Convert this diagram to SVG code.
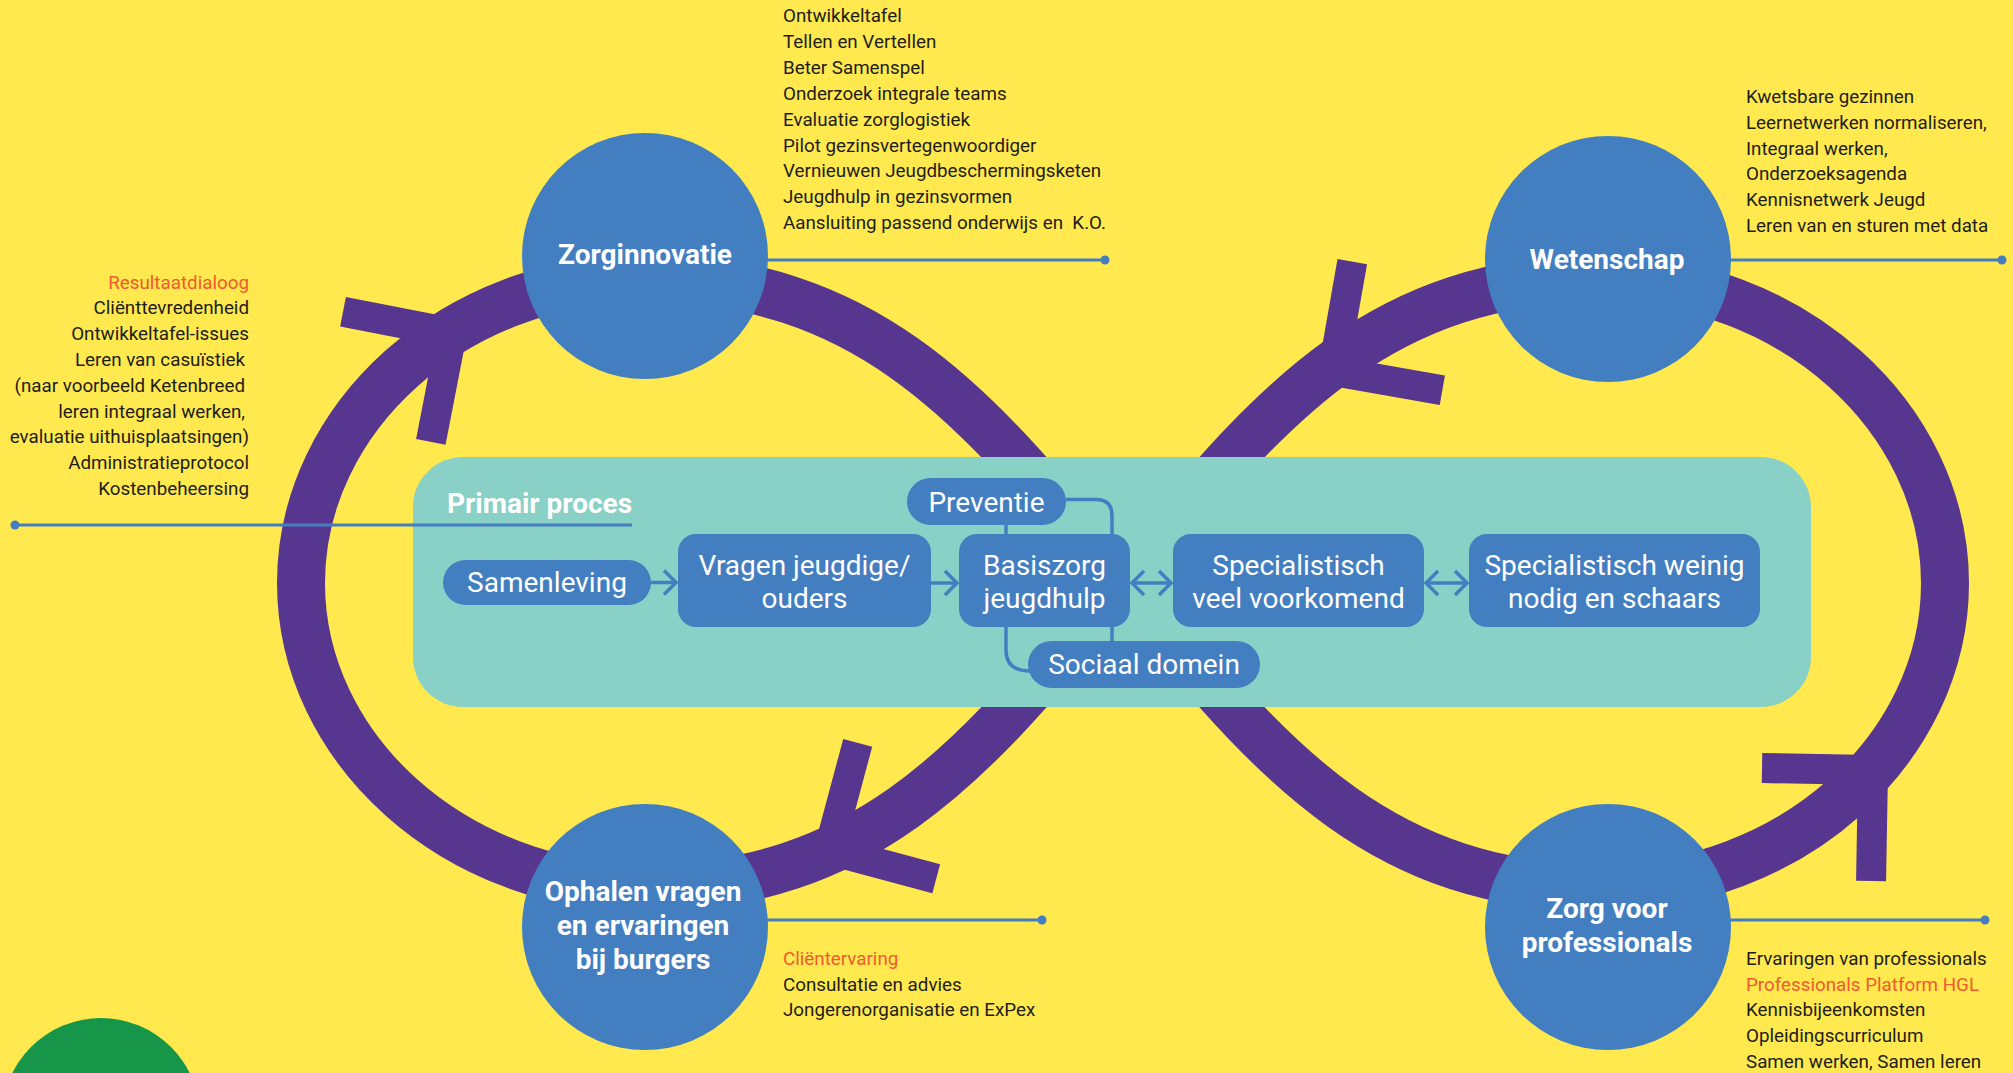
<svg xmlns="http://www.w3.org/2000/svg" width="2013" height="1073" viewBox="0 0 2013 1073">
<defs>
<style>
.bg{fill:#FFE94E}
.band{fill:none;stroke:#56368F;stroke-width:48}
.barb{stroke:#56368F;stroke-width:30;stroke-linecap:butt}
.circle{fill:#437EC0}
.ctext{font-family:Roboto,'Liberation Sans',sans-serif;font-weight:700;font-size:28px;fill:#ffffff;text-anchor:middle}
.box{fill:#437EC0}
.btext{font-family:Roboto,'Liberation Sans',sans-serif;font-size:28px;fill:#ffffff;text-anchor:middle}
.title{font-family:Roboto,'Liberation Sans',sans-serif;font-weight:700;font-size:28px;fill:#ffffff}
.list{font-family:Roboto,'Liberation Sans',sans-serif;font-size:18.8px;fill:#1d1d1b}
.end{text-anchor:end}
.hl{fill:#F15A31}
.lead{stroke:#437EC0;stroke-width:3;fill:none}
.dot{fill:#437EC0}
.flow{stroke:#437EC0;stroke-width:3.5;fill:none}
</style>
<marker id="chev" markerUnits="userSpaceOnUse" markerWidth="18" markerHeight="28" refX="14" refY="14" orient="auto-start-reverse" viewBox="0 0 18 28">
<path d="M2,2 L14,14 L2,26" fill="none" stroke="#437EC0" stroke-width="3.5"/>
</marker>
<g id="barbs">
<line class="barb" x1="0" y1="0" x2="-78.5" y2="78.5"/>
<line class="barb" x1="0" y1="0" x2="-78.5" y2="-78.5"/>
</g>
</defs>

<rect class="bg" x="0" y="0" width="2013" height="1073"/>
<circle id="green-dot" cx="101" cy="1117" r="99" fill="#17964A"/>

<g id="cycle">
<path class="band" d="M645,278 C885,278 992,431 1123,582 C1254,733 1361,888 1601,888 C1791,888 1945,749 1945,583 C1945,417 1791,278 1601,278 C1361,278 1254,431 1123,582 C992,733 885,888 645,888 C455,888 301,749 301,583 C301,417 455,278 645,278 Z"/>
<use href="#barbs" transform="translate(452,333) rotate(-34)"/>
<use href="#barbs" transform="translate(829,850) rotate(150)"/>
<use href="#barbs" transform="translate(1333,371) rotate(145)"/>
<use href="#barbs" transform="translate(1873,770) rotate(-44)"/>
</g>

<g id="primair-proces">
<rect x="413" y="457" width="1398" height="250" rx="50" fill="#89D0C7"/>
<text class="title" x="447" y="513">Primair proces</text>
</g>

<g id="connectors">
<path class="flow" d="M651,582.5 H676" marker-end="url(#chev)"/>
<path class="flow" d="M931,583 H957" marker-end="url(#chev)"/>
<path class="flow" d="M1132,583 H1171" marker-start="url(#chev)" marker-end="url(#chev)"/>
<path class="flow" d="M1426,583 H1467" marker-start="url(#chev)" marker-end="url(#chev)"/>
<path class="flow" d="M1006,525 V534"/>
<path class="flow" d="M1066,499.5 H1096 Q1112,499.5 1112,515.5 V534"/>
<path class="flow" d="M1006,627 V650 Q1006,671 1030,671"/>
<path class="flow" d="M1112,627 V641"/>
<path class="lead" d="M766,260 H1105"/>
<circle class="dot" cx="1105" cy="260" r="4.5"/>
<path class="lead" d="M1729,260 H2002"/>
<circle class="dot" cx="2002" cy="260" r="4.5"/>
<path class="lead" d="M766,920 H1042"/>
<circle class="dot" cx="1042" cy="920" r="4.5"/>
<path class="lead" d="M1729,920 H1985"/>
<circle class="dot" cx="1985" cy="920" r="4.5"/>
<path class="lead" d="M15,525 H632"/>
<circle class="dot" cx="15" cy="525" r="4.5"/>
</g>

<g id="samenleving">
<rect class="box" x="443" y="560" width="208" height="45" rx="22.5"/>
<text class="btext" x="547" y="592">Samenleving</text>
</g>
<g id="vragen">
<rect class="box" x="678" y="534" width="253" height="93" rx="18"/>
<text class="btext" x="804.5" y="575">Vragen jeugdige/</text>
<text class="btext" x="804.5" y="608">ouders</text>
</g>
<g id="preventie">
<rect class="box" x="907" y="478" width="159" height="47" rx="23.5"/>
<text class="btext" x="986.5" y="511.5">Preventie</text>
</g>
<g id="basiszorg">
<rect class="box" x="959" y="534" width="171" height="93" rx="18"/>
<text class="btext" x="1044.5" y="575">Basiszorg</text>
<text class="btext" x="1044.5" y="608">jeugdhulp</text>
</g>
<g id="sociaal-domein">
<rect class="box" x="1028" y="641" width="232" height="47" rx="23.5"/>
<text class="btext" x="1144" y="674">Sociaal domein</text>
</g>
<g id="specialistisch-veel">
<rect class="box" x="1173" y="534" width="251" height="93" rx="18"/>
<text class="btext" x="1298.5" y="575">Specialistisch</text>
<text class="btext" x="1298.5" y="608">veel voorkomend</text>
</g>
<g id="specialistisch-weinig">
<rect class="box" x="1469" y="534" width="291" height="93" rx="18"/>
<text class="btext" x="1614.5" y="575">Specialistisch weinig</text>
<text class="btext" x="1614.5" y="608">nodig en schaars</text>
</g>

<g id="zorginnovatie">
<circle class="circle" cx="645" cy="256" r="123"/>
<text class="ctext" x="645" y="264">Zorginnovatie</text>
</g>
<g id="wetenschap">
<circle class="circle" cx="1608" cy="259" r="123"/>
<text class="ctext" x="1607" y="269">Wetenschap</text>
</g>
<g id="ophalen">
<circle class="circle" cx="645" cy="927" r="123"/>
<text class="ctext" x="643" y="901">Ophalen vragen</text>
<text class="ctext" x="643" y="935">en ervaringen</text>
<text class="ctext" x="643" y="969">bij burgers</text>
</g>
<g id="zorg-voor-professionals">
<circle class="circle" cx="1608" cy="927" r="123"/>
<text class="ctext" x="1607" y="918">Zorg voor</text>
<text class="ctext" x="1607" y="952">professionals</text>
</g>

<g id="lijst-zorginnovatie" class="list">
<text x="783" y="22">Ontwikkeltafel</text>
<text x="783" y="47.9">Tellen en Vertellen</text>
<text x="783" y="73.8">Beter Samenspel</text>
<text x="783" y="99.7">Onderzoek integrale teams</text>
<text x="783" y="125.6">Evaluatie zorglogistiek</text>
<text x="783" y="151.5">Pilot gezinsvertegenwoordiger</text>
<text x="783" y="177.4">Vernieuwen Jeugdbeschermingsketen</text>
<text x="783" y="203.3">Jeugdhulp in gezinsvormen</text>
<text x="783" y="229.2" xml:space="preserve">Aansluiting passend onderwijs en  K.O.</text>
</g>
<g id="lijst-wetenschap" class="list">
<text x="1746" y="102.7">Kwetsbare gezinnen</text>
<text x="1746" y="128.6">Leernetwerken normaliseren,</text>
<text x="1746" y="154.5">Integraal werken,</text>
<text x="1746" y="180.4">Onderzoeksagenda</text>
<text x="1746" y="206.3">Kennisnetwerk Jeugd</text>
<text x="1746" y="232.2">Leren van en sturen met data</text>
</g>
<g id="lijst-primair" class="list end">
<text class="hl" x="249" y="288.5">Resultaatdialoog</text>
<text x="249" y="314.3">Cliënttevredenheid</text>
<text x="249" y="340.1">Ontwikkeltafel-issues</text>
<text x="245" y="365.9">Leren van casuïstiek</text>
<text x="245" y="391.7">(naar voorbeeld Ketenbreed</text>
<text x="245" y="417.5">leren integraal werken,</text>
<text x="249" y="443.3">evaluatie uithuisplaatsingen)</text>
<text x="249" y="469.1">Administratieprotocol</text>
<text x="249" y="494.9">Kostenbeheersing</text>
</g>
<g id="lijst-ophalen" class="list">
<text class="hl" x="783" y="964.6">Cliëntervaring</text>
<text x="783" y="990.5">Consultatie en advies</text>
<text x="783" y="1016.4">Jongerenorganisatie en ExPex</text>
</g>
<g id="lijst-professionals" class="list">
<text x="1746" y="964.6">Ervaringen van professionals</text>
<text class="hl" x="1746" y="990.5">Professionals Platform HGL</text>
<text x="1746" y="1016.4">Kennisbijeenkomsten</text>
<text x="1746" y="1042.3">Opleidingscurriculum</text>
<text x="1746" y="1068.2">Samen werken, Samen leren</text>
</g>
</svg>
